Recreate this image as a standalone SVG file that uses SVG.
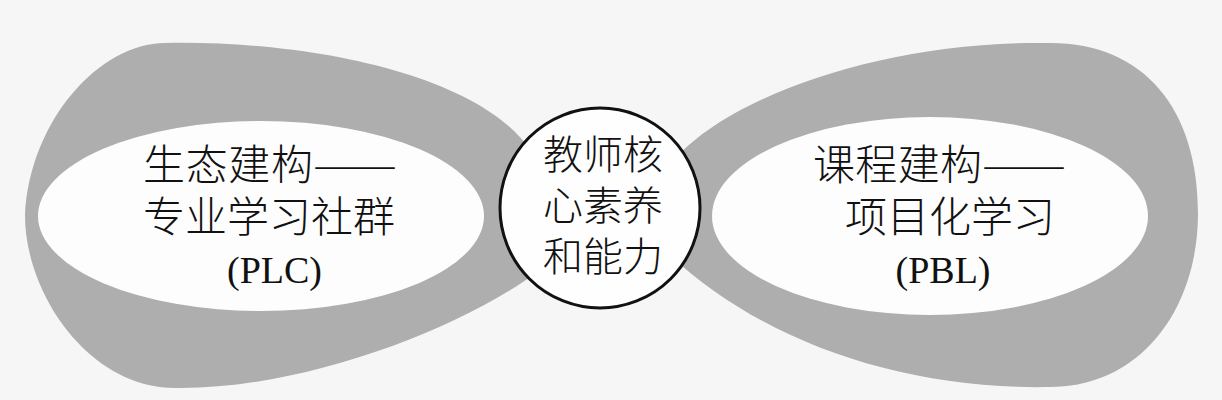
<svg xmlns="http://www.w3.org/2000/svg" width="1222" height="400" viewBox="0 0 1222 400">
  <style>
    .lobe { fill: #aeaeae; stroke: none; }
    .hole { fill: #fdfdfd; stroke: none; }
    .core { fill: #fefefe; stroke: #111111; stroke-width: 3; }
    .cjk { font-family: "Noto Sans CJK SC", "Noto Sans", sans-serif; font-weight: 300; fill: #111111; }
    .lat { font-family: "Liberation Serif", "Times New Roman", serif; fill: #111111; }
  </style>
  <rect x="0" y="0" width="1222" height="400" fill="#f6f6f6"/>
  <g id="connectors"></g>
  <g id="node-plc">
    <path class="lobe" d="M 600,200 L 530,150 C 480,75 310,40 165,43 C 100,43 30,120 25,215 C 25,295 90,388 175,388 C 300,390 460,330 540,270 L 600,220 Z"/>
    <ellipse class="hole" cx="261" cy="216" rx="223" ry="95"/>
    <text class="cjk" y="180" font-size="42"><tspan x="143" textLength="170" lengthAdjust="spacing">生态建构</tspan><tspan x="313" textLength="84" lengthAdjust="spacingAndGlyphs">——</tspan></text>
    <text class="cjk" x="143" y="232" font-size="42">专业学习社群</text>
    <text class="lat" x="274.5" y="283" font-size="38" text-anchor="middle">(PLC)</text>
  </g>
  <g id="node-pbl">
    <path class="lobe" d="M 600,200 L 670,165 C 720,100 880,40 1050,43 C 1145,43 1198,110 1198,213 C 1198,310 1140,387 1050,387 C 900,390 760,340 670,255 L 600,220 Z"/>
    <ellipse class="hole" cx="930" cy="216" rx="218" ry="99"/>
    <text class="cjk" y="180" font-size="42"><tspan x="813" textLength="169" lengthAdjust="spacing">课程建构</tspan><tspan x="982" textLength="84" lengthAdjust="spacingAndGlyphs">——</tspan></text>
    <text class="cjk" x="845" y="232" font-size="42">项目化学习</text>
    <text class="lat" x="943" y="283" font-size="38" text-anchor="middle">(PBL)</text>
  </g>
  <g id="node-core">
    <circle class="core" cx="600" cy="208" r="100"/>
    <text class="cjk" x="603" y="169" font-size="40" text-anchor="middle">教师核</text>
    <text class="cjk" x="603" y="220" font-size="40" text-anchor="middle">心素养</text>
    <text class="cjk" x="603" y="271" font-size="40" text-anchor="middle">和能力</text>
  </g>
</svg>
